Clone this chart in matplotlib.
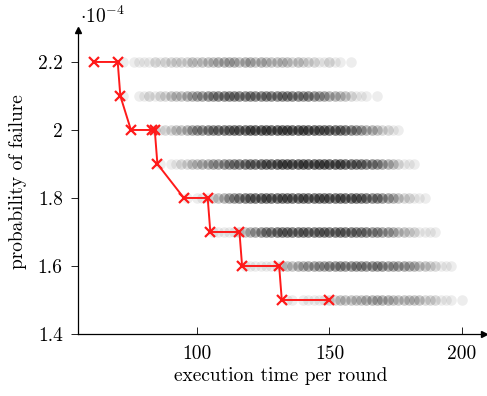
import numpy as np
import matplotlib
matplotlib.use("Agg")
import matplotlib.pyplot as plt

plt.rcParams['font.family'] = 'serif'
plt.rcParams['font.serif'] = ['cmr10']
plt.rcParams['mathtext.fontset'] = 'cm'
plt.rcParams['axes.formatter.use_mathtext'] = True

# --- data (probability in units of 1e-4) ---
levels = [2.2, 2.1, 2.0, 1.9, 1.8, 1.7, 1.6, 1.5]
row_start = [72, 72, 84, 86, 96, 106, 118, 134]   # first x of each row, step of 2
row_step = 2
# how many configurations sit at each x position (read from darkness)
counts = [
    [1, 0, 1, 1, 1, 1, 2, 1, 2, 2, 2, 2, 2, 3, 2, 3, 3, 3, 4, 4, 4, 4, 3, 4, 4,
     3, 4, 3, 3, 3, 3, 3, 2, 3, 2, 2, 2, 1, 1, 2, 1, 1, 0, 1],
    [1, 0, 0, 1, 1, 2, 1, 2, 2, 3, 3, 3, 4, 4, 5, 5, 6, 6, 7, 7, 7, 7, 7, 7, 7,
     7, 7, 7, 7, 7, 7, 7, 7, 7, 6, 7, 6, 5, 5, 4, 4, 3, 3, 2, 1, 1, 1, 0, 1],
    [2, 1, 2, 2, 3, 3, 4, 5, 6, 6, 7, 7, 8, 8, 8, 9, 9, 9, 10, 10, 10, 10, 10, 10,
     10, 10, 10, 10, 10, 10, 10, 9, 9, 9, 9, 8, 8, 7, 6, 5, 4, 4, 3, 2, 2, 1, 1],
    [1, 0, 1, 1, 2, 2, 3, 3, 4, 4, 5, 5, 6, 6, 7, 7, 8, 8, 8, 9, 9, 9, 10, 10, 10,
     10, 10, 10, 10, 10, 10, 10, 10, 10, 10, 9, 9, 8, 8, 7, 7, 6, 5, 4, 3, 2, 1, 1, 1],
    [1, 0, 1, 1, 1, 2, 3, 4, 5, 6, 7, 8, 8, 9, 9, 9, 9, 9, 9, 9, 9, 9, 9, 9, 9,
     9, 9, 9, 9, 9, 9, 9, 9, 8, 8, 7, 7, 6, 5, 4, 3, 2, 2, 1, 1, 1],
    [1, 1, 1, 1, 1, 2, 3, 4, 5, 6, 7, 7, 8, 8, 8, 8, 8, 8, 8, 8, 8, 8, 8, 8, 8,
     8, 8, 7, 7, 7, 6, 6, 5, 5, 4, 3, 3, 2, 2, 1, 1, 1, 1],
    [1, 1, 1, 1, 1, 1, 1, 2, 3, 3, 4, 4, 5, 5, 5, 5, 6, 6, 6, 6, 6, 6, 6, 6, 6,
     6, 6, 5, 5, 5, 5, 4, 4, 3, 3, 2, 2, 1, 1, 1],
    [1, 1, 0, 1, 1, 1, 1, 1, 2, 2, 3, 3, 3, 3, 3, 4, 4, 4, 4, 4, 3, 3, 3, 3, 3,
     3, 2, 2, 2, 1, 1, 1, 0, 1],
]

pareto_x = [61, 70, 71, 75, 83, 84, 85, 95, 104, 105, 116, 117, 131, 132, 150]
pareto_y = [2.2, 2.2, 2.1, 2.0, 2.0, 2.0, 1.9, 1.8, 1.8, 1.7, 1.7, 1.6, 1.6, 1.5, 1.5]

fig = plt.figure(figsize=(4.87, 3.96), dpi=100)
ax = fig.add_axes([78 / 487, 62 / 396, 406 / 487, 304 / 396])

for lvl, x0, cnt in zip(levels, row_start, counts):
    xs = []
    for i, c in enumerate(cnt):
        xs += [x0 + row_step * i] * c
    ax.scatter(xs, [lvl] * len(xs), s=58, color='black', alpha=0.07,
               linewidths=0, zorder=2)

ax.plot(pareto_x, pareto_y, color='#ff1a1a', lw=1.4, marker='x', ms=6.5,
        mew=1.6, zorder=3)

ax.set_xlim(55, 208.4)
ax.set_ylim(1.4, 2.294)
ax.set_xticks([100, 150, 200])
ax.set_xticklabels(['100', '150', '200'])
ax.set_yticks([1.4, 1.6, 1.8, 2.0, 2.2])
ax.set_yticklabels(['1.4', '1.6', '1.8', '2', '2.2'])
ax.tick_params(axis='x', direction='in', length=5, width=0.6, labelsize=14, pad=8)
ax.tick_params(axis='y', direction='out', length=5, width=0.6, labelsize=14, pad=6)

for side in ['top', 'right']:
    ax.spines[side].set_visible(False)
for side in ['left', 'bottom']:
    ax.spines[side].set_linewidth(0.9)

# arrow heads on the axis lines
ax.plot(1, 0, marker='>', color='black', ms=5, transform=ax.transAxes, clip_on=False)
ax.plot(0, 1, marker='^', color='black', ms=5, transform=ax.transAxes, clip_on=False)

ax.set_xlabel('execution time per round', fontsize=14, labelpad=3)
ax.set_ylabel('probability of failure', fontsize=14, labelpad=8)
fig.text(80 / 487, 1 - 23 / 396, r'$\cdot 10^{-4}$', fontsize=14, va='baseline')

fig.savefig('out.png', dpi=100)
